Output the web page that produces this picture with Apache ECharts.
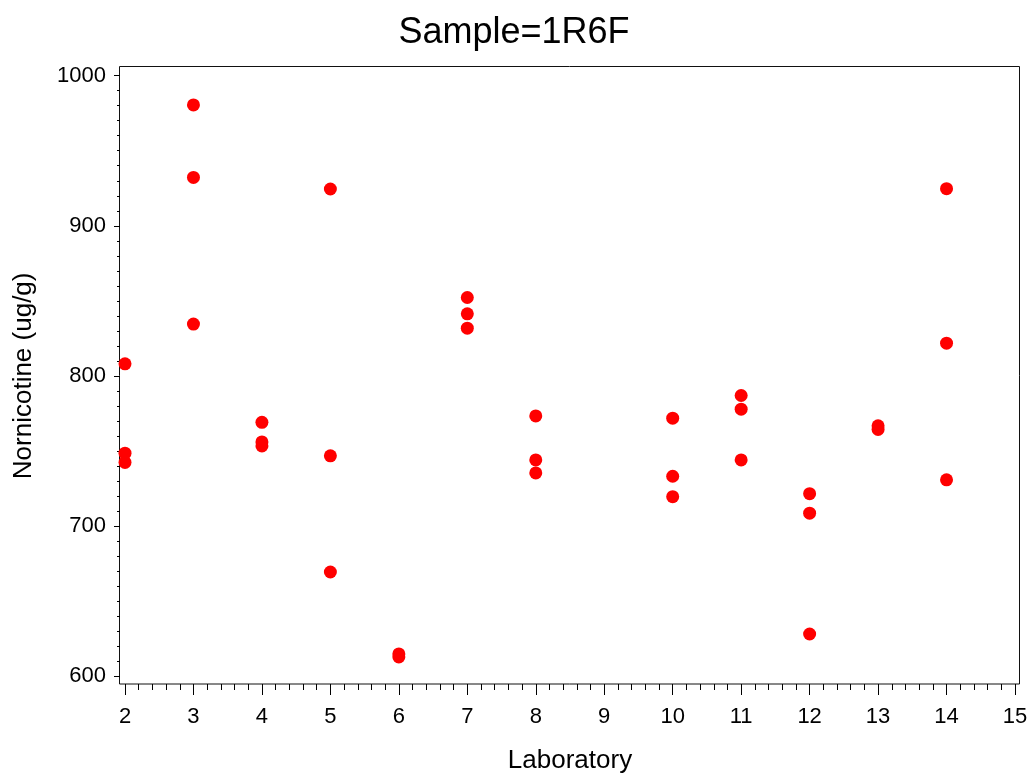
<!DOCTYPE html>
<html>
<head>
<meta charset="utf-8">
<script src="https://cdn.jsdelivr.net/npm/echarts@6/dist/echarts.min.js"></script>
<style>
html,body{margin:0;padding:0;background:#fff;}
#chart{width:1028px;height:776px;}
</style>
</head>
<body>
<div id="chart"></div>
<script>
const titleText = 'Sample=1R6F';
const xName = 'Laboratory';
const yName = 'Nornicotine (ug/g)';
const labs = [2,2,2, 3,3,3, 4,4,4, 5,5,5, 6,6, 7,7,7, 8,8,8, 10,10,10, 11,11,11, 12,12,12, 13,13, 14,14,14];
const values = [808,748.5,742.3, 980.5,932.2,834.5, 769,756,753.3, 924.5,746.7,669.3, 614.7,612.7, 852.2,841.3,831.8, 773.3,744,735.3, 771.8,733.1,719.5, 786.9,777.8,744, 721.5,708.5,628, 766.7,764.3, 924.7,821.8,730.7];
const xMin = 2, xMax = 15, xStep = 1;
const yMin = 600, yMax = 1000, yStep = 100;

const points = labs.map((l, i) => [l, values[i]]);
const font = '"Liberation Sans", Arial, sans-serif';

const chart = echarts.init(document.getElementById('chart'));
chart.setOption({
  backgroundColor: '#ffffff',
  animation: false,
  title: {
    text: titleText, left: 'center', top: 10,
    textStyle: {fontFamily: font, fontSize: 36, fontWeight: 'normal', color: '#000'}
  },
  grid: [
    {left: 119.5, top: 66.5, width: 900, height: 617.5, show: true, borderColor: '#111', borderWidth: 1, backgroundColor: 'transparent', containLabel: false, outerBoundsMode: 'none'},
    {left: 125, top: 75.7, width: 890, height: 600.3, containLabel: false, outerBoundsMode: 'none'}
  ],
  xAxis: [
    {gridIndex: 0, type: 'value', show: false, min: 0, max: 1},
    {gridIndex: 1, type: 'value', min: xMin, max: xMax, interval: xStep, offset: 8,
     name: xName, nameLocation: 'middle', nameGap: 64,
     nameTextStyle: {fontFamily: font, fontSize: 26, color: '#000'},
     axisLine: {show: false},
     axisTick: {show: true, length: 11, lineStyle: {color: '#000'}},
     minorTick: {show: true, splitNumber: 5, length: 6, lineStyle: {color: '#000'}},
     axisLabel: {fontFamily: font, fontSize: 22, color: '#000', margin: 22},
     splitLine: {show: false}}
  ],
  yAxis: [
    {gridIndex: 0, type: 'value', show: false, min: 0, max: 1},
    {gridIndex: 1, type: 'value', min: yMin, max: yMax, interval: yStep, offset: 5,
     name: yName, nameLocation: 'middle', nameGap: 83, nameRotate: 90,
     nameTextStyle: {fontFamily: font, fontSize: 26, color: '#000'},
     axisLine: {show: false},
     axisTick: {show: true, length: 6, lineStyle: {color: '#000'}},
     minorTick: {show: true, splitNumber: 10, length: 3, lineStyle: {color: '#000'}},
     axisLabel: {fontFamily: font, fontSize: 22, color: '#000', margin: 14, formatter: v => String(v)},
     splitLine: {show: false}}
  ],
  series: [{
    type: 'scatter', xAxisIndex: 1, yAxisIndex: 1, clip: false,
    symbol: 'circle', symbolSize: 13,
    itemStyle: {color: '#ff0000', opacity: 1},
    data: points
  }]
});
</script>
</body>
</html>
